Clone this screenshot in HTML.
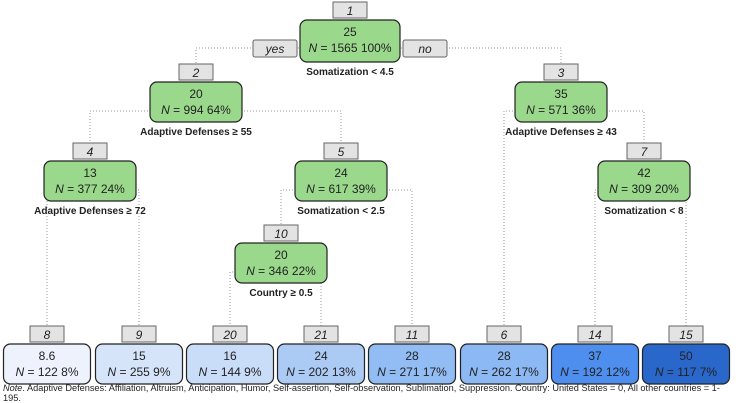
<!DOCTYPE html>
<html><head><meta charset="utf-8"><style>
body{margin:0;background:#fff;width:738px;height:401px;overflow:hidden;font-family:"Liberation Sans",Arial,sans-serif}
svg{display:block}
text{font-family:"Liberation Sans",Arial,sans-serif}
</style></head><body>
<svg id="s" width="738" height="401"></svg>
<script>
const ids=[1,2,3,4,5,7,10,8,9,20,21,11,6,14,15];
const means=["25","20","35","13","24","42","20","8.6","15","16","24","28","28","37","50"];
const counts=[1565,994,571,377,617,309,346,122,255,144,202,271,262,192,117];
const pcts=["100%","64%","36%","24%","39%","20%","22%","8%","9%","9%","13%","17%","17%","12%","7%"];
const conds={1:"Somatization < 4.5",2:"Adaptive Defenses ≥ 55",3:"Adaptive Defenses  ≥ 43",4:"Adaptive Defenses ≥ 72",5:"Somatization < 2.5",7:"Somatization < 8",10:"Country ≥ 0.5"};
const kids={1:[2,3],2:[4,5],3:[6,7],4:[8,9],5:[10,11],7:[14,15],10:[20,21]};
const fills={1:"#9ad98c",2:"#9ad98c",3:"#9ad98c",4:"#9ad98c",5:"#9ad98c",7:"#9ad98c",10:"#9ad98c",8:"#edf2fc",9:"#d6e4fa",20:"#c9dcf8",21:"#abcbf5",11:"#92bdf4",6:"#8cb8f3",14:"#4d8eef",15:"#2a67cb"};
const pos={1:[350,20],2:[196,82],3:[561,82],4:[90,161],5:[341,161],7:[644,161],10:[281,243],8:[47,344],9:[139,344],20:[230,344],21:[321,344],11:[412,344],6:[504,344],14:[595,344],15:[686,344]};
const S=document.getElementById('s');const NS="http://www.w3.org/2000/svg";
function el(t,a,p){const e=document.createElementNS(NS,t);for(const k in a)e.setAttribute(k,a[k]);(p||S).appendChild(e);return e;}
for(const p in kids){const [px,py]=pos[p];const hy=py+(p==1?28:29);
 kids[p].forEach(c=>{const [cx,cy]=pos[c];
  const l=el('polyline',{points:`${px},${hy} ${cx},${hy} ${cx},${cy-18}`,fill:'none',stroke:'#999','stroke-width':1,'stroke-dasharray':'1,2'});
  
  });}
ids.forEach((id,i)=>{const [cx,y]=pos[id];const w=id==1?100:(y>300?87:92);const h=id==1?42:40;
 const g=el('g',{});
 
 
 el('rect',{x:cx-17,y:y-18,width:34,height:16,fill:'#e3e3e3',stroke:'#666','stroke-width':1},g);
 const t0=el('text',{x:cx,y:y-5,'text-anchor':'middle','font-size':12,'font-style':'italic',fill:'#222'},g);t0.textContent=id;
 el('rect',{x:cx-w/2,y:y,width:w,height:h,rx:7,fill:fills[id],stroke:'#222','stroke-width':1.2},g);
 const t1=el('text',{x:cx,y:y+16,'text-anchor':'middle','font-size':12,fill:'#222'},g);t1.textContent=means[i];
 const t2=el('text',{x:cx,y:y+32,'text-anchor':'middle','font-size':12,fill:'#222'},g);
 const it=el('tspan',{'font-style':'italic'},t2);it.textContent='N';
 const r=el('tspan',{},t2);r.textContent=' = '+counts[i]+' '+pcts[i];
 if(conds[id]){const c=el('text',{x:cx,y:y+h+13,'text-anchor':'middle','font-size':10,'font-weight':'bold',fill:'#222'},g);c.textContent=conds[id];}
});
[['yes',275],['no',425]].forEach(([t,x])=>{const g=el('g',{});
 
 
 el('rect',{x:x-22,y:40,width:44,height:17,rx:2,fill:'#e3e3e3',stroke:'#666'},g);
 const tx=el('text',{x:x,y:53,'text-anchor':'middle','font-size':12,'font-style':'italic',fill:'#222'},g);tx.textContent=t;});
</script>
<div style="position:absolute;left:3px;top:384px;width:732px;font-size:9.2px;line-height:9.5px;color:#222"><i>Note</i>. Adaptive Defenses: Affiliation, Altruism, Anticipation, Humor, Self-assertion, Self-observation, Sublimation, Suppression. Country: United States = 0, All other countries = 1-195.</div>
</body></html>
